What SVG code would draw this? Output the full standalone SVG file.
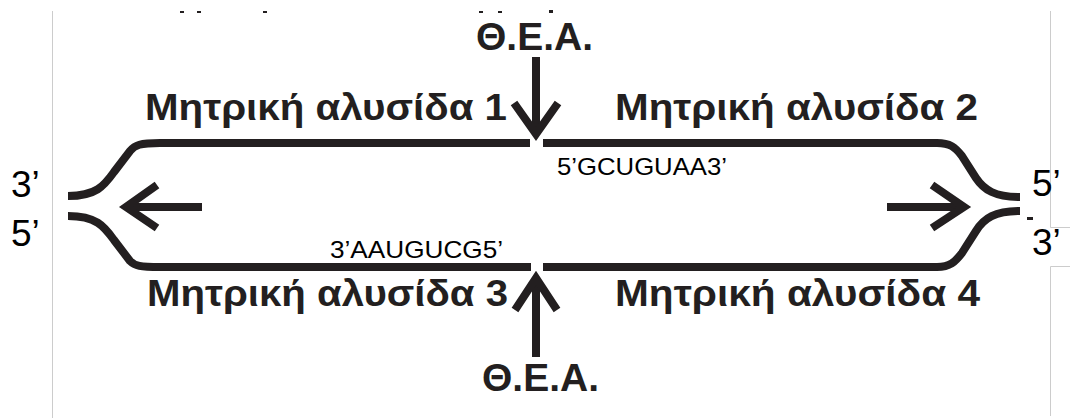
<svg xmlns="http://www.w3.org/2000/svg" width="1070" height="418" viewBox="0 0 1070 418">
<style>
.frame{stroke:#cccccc;stroke-width:1;fill:none}
.strand{stroke:#231f20;stroke-width:8;fill:none;stroke-linecap:butt;stroke-linejoin:miter}
.arrow{stroke:#231f20;stroke-width:8;fill:none;stroke-linejoin:miter;stroke-miterlimit:10}
.lbl{font-family:"Liberation Sans",Arial,sans-serif;font-weight:bold;fill:#231f20}
.end{font-family:"Liberation Sans",Arial,sans-serif;fill:#000}
.seq{font-family:"Liberation Sans",Arial,sans-serif;fill:#000;font-size:24px}
</style>
<rect width="1070" height="418" fill="#ffffff"/>
<g id="frame">
<path class="frame" d="M52.5,11 V418"/>
<path class="frame" d="M1050.5,11 V227.5 H1070"/>
<path class="frame" d="M1070,266.5 H1050.5 V416"/>
<g fill="#231f20">
<rect x="180" y="11" width="4" height="2"/>
<rect x="197" y="11" width="4" height="2"/>
<rect x="263" y="11" width="4" height="2"/>
<rect x="479" y="11" width="4" height="2"/>
<rect x="498" y="11" width="4" height="2"/>
<rect x="549" y="10" width="4" height="3"/>
<rect x="1027" y="217" width="6" height="3"/>
</g>
</g>
<g id="connectors">
<path class="strand" d="M68,196 C96,196 104,186 114,172 L130,151 C135,145 140,143 160,143 L530,143"/>
<path class="strand" d="M68,216 C96,216 104,226 114,240 L130,261 C135,266 140,267 160,267 L531,267"/>
<path class="strand" d="M543,143 L937,143 C950,143 955,147 962,156 L976,178 C984,190 995,197 1020,197"/>
<path class="strand" d="M543,267 L937,267 C950,267 955,262 962,253 L976,231 C984,218 995,211 1020,211"/>
<path class="arrow" d="M536,57 L536,132"/>
<path class="arrow" d="M514,103 L536,134 L558,103"/>
<path class="arrow" d="M536,357 L536,280"/>
<path class="arrow" d="M515,310 L536,278 L557,310"/>
<path class="arrow" d="M202,207 L128,207"/>
<path class="arrow" d="M157,185 L126,207 L157,228"/>
<path class="arrow" d="M887,207 L962,207"/>
<path class="arrow" d="M932,185 L964,207 L932,228"/>
</g>
<g id="thea-top"><text class="lbl" x="476" y="50" font-size="39">Θ.Ε.Α.</text></g>
<g id="thea-bottom"><text class="lbl" x="482" y="391" font-size="39">Θ.Ε.Α.</text></g>
<g id="strand1"><text class="lbl" x="145" y="120" font-size="37" textLength="362" lengthAdjust="spacingAndGlyphs">Μητρική αλυσίδα 1</text></g>
<g id="strand2"><text class="lbl" x="615" y="120" font-size="37" textLength="363" lengthAdjust="spacingAndGlyphs">Μητρική αλυσίδα 2</text></g>
<g id="strand3"><text class="lbl" x="147" y="306" font-size="37" textLength="361" lengthAdjust="spacingAndGlyphs">Μητρική αλυσίδα 3</text></g>
<g id="strand4"><text class="lbl" x="615" y="306" font-size="37" textLength="365" lengthAdjust="spacingAndGlyphs">Μητρική αλυσίδα 4</text></g>
<g id="seq-top"><text class="seq" x="557" y="175" textLength="170" lengthAdjust="spacingAndGlyphs">5’GCUGUAA3’</text></g>
<g id="seq-bottom"><text class="seq" x="330" y="258" textLength="173" lengthAdjust="spacingAndGlyphs">3’AAUGUCG5’</text></g>
<g id="end-left"><text class="end" x="11" y="197" font-size="37">3’</text><text class="end" x="11" y="246" font-size="37">5’</text></g>
<g id="end-right"><text class="end" x="1032" y="196" font-size="37">5’</text><text class="end" x="1032" y="255" font-size="37">3’</text></g>
</svg>
